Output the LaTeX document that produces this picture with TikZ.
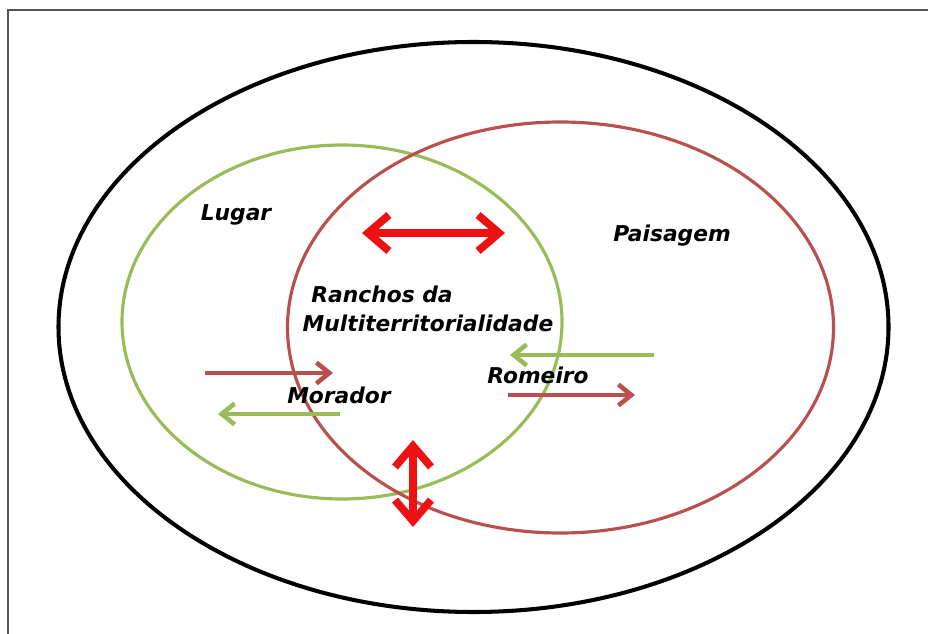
\documentclass[tikz,border=0pt]{standalone}
\usepackage{fontspec}
\setmainfont{DejaVu Sans}
\usetikzlibrary{arrows.meta}
\definecolor{lgreen}{HTML}{9BBB59}
\definecolor{dred}{HTML}{B9504F}
\definecolor{bred}{HTML}{EE1111}
\definecolor{framegray}{HTML}{555555}
\begin{document}
\begin{tikzpicture}[x=0.02cm,y=-0.02cm,
  lbl/.style={font=\fontsize{12.4}{15}\selectfont\bfseries\itshape, inner sep=0pt},
  thinarrow/.style={line width=2.6pt, -{Straight Barb[length=0.26cm,width=0.42cm]}},
  bigarrow/.style={line width=4.4pt, color=bred, {Straight Barb[length=0.42cm,width=0.72cm]}-{Straight Barb[length=0.42cm,width=0.72cm]}}]
\useasboundingbox (0,0) rectangle (928,634);
\draw[framegray, line width=1.2pt] (8,634) -- (8,10) -- (928,10);
% outer ellipse
\draw[black, line width=2.3pt] (473.5,327) ellipse [x radius=415, y radius=285];
% green circle (Lugar)
\draw[lgreen, line width=1.8pt] (342,322) ellipse [x radius=220, y radius=177];
% red ellipse (Paisagem)
\draw[dred, line width=1.8pt] (560.5,327.5) ellipse [x radius=273, y radius=205.5];
% labels
\node[lbl] (lugar) at (236,215) {Lugar};
\node[lbl] (paisagem) at (672,236) {Paisagem};
\node[lbl] (ranchos) at (382,294) {Ranchos da};
\node[lbl] (multi) at (428,323) {Multiterritorialidade};
\node[lbl] (morador) at (339,395) {Morador};
\node[lbl] (romeiro) at (538,375) {Romeiro};
% coordinates for arrows
\coordinate (hA) at (362,233);
\coordinate (hB) at (505,233);
\coordinate (vA) at (413,440);
\coordinate (vB) at (413,527);
\coordinate (m1s) at (205,373);
\coordinate (m1e) at (333,373);
\coordinate (m2s) at (340,414);
\coordinate (m2e) at (218,414);
\coordinate (r1s) at (654,355);
\coordinate (r1e) at (510,355);
\coordinate (r2s) at (508,395);
\coordinate (r2e) at (635,395);
% arrows
\draw[bigarrow] (hA) -- (hB);
\draw[bigarrow] (vA) -- (vB);
\draw[thinarrow, dred] (m1s) -- (m1e);
\draw[thinarrow, lgreen] (m2s) -- (m2e);
\draw[thinarrow, lgreen] (r1s) -- (r1e);
\draw[thinarrow, dred] (r2s) -- (r2e);
\end{tikzpicture}
\end{document}
